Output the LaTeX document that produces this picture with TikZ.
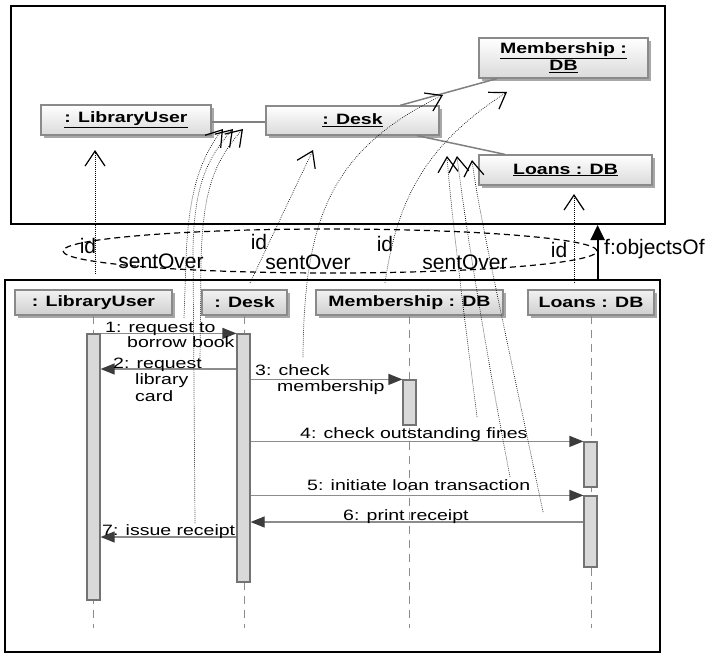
\documentclass[tikz,border=0pt]{standalone}
\usepackage{fontspec}
\setmainfont{Liberation Sans}
\newfontfamily\umlfont[FakeStretch=1.3]{Liberation Sans}
\usetikzlibrary{arrows.meta,shadows,shapes.geometric,calc}

\definecolor{boxedge}{HTML}{8A8A8A}
\definecolor{boxbot}{HTML}{DADADA}
\definecolor{hdrtop}{HTML}{F2F2F2}
\definecolor{hdrbot}{HTML}{CFCFCF}
\definecolor{shade}{HTML}{A8A8A8}
\definecolor{actfill}{HTML}{D9D9D9}
\definecolor{actedge}{HTML}{737373}
\definecolor{msgline}{HTML}{8C8C8C}
\definecolor{msghead}{HTML}{3C3C3C}

\begin{document}
\begin{tikzpicture}[x=1pt,y=-1pt,
  frame/.style={draw=black,line width=2pt,inner sep=0pt},
  objbox/.style={draw=boxedge,line width=1.2pt,top color=white,bottom color=boxbot,
     drop shadow={shadow xshift=3pt,shadow yshift=-3pt,fill=shade,opacity=1},
     inner sep=0pt,align=center,font=\umlfont\bfseries\fontsize{15}{16}\selectfont},
  hdrbox/.style={objbox,top color=hdrtop,bottom color=hdrbot,minimum height=25pt},
  act/.style={draw=actedge,fill=actfill,line width=1.2pt,minimum width=13pt,inner sep=0pt},
  lifeline/.style={draw=msgline,line width=1pt,dash pattern=on 8pt off 6pt},
  link/.style={draw=gray,line width=1.5pt},
  msg/.style={draw=msgline,line width=1.2pt,-{Triangle[length=14pt,width=11pt,color=msghead,fill=msghead]}},
  msglbl/.style={anchor=base west,inner sep=0pt,font=\umlfont\fontsize{15}{16}\selectfont},
  mapline/.style={draw=black,line width=0.7pt,dash pattern=on 0.7pt off 1.3pt,
     -{Straight Barb[length=15pt,width=20pt,line width=1.2pt]}},
  biglbl/.style={inner sep=0pt,font=\fontsize{21}{24}\selectfont},
]
\useasboundingbox (0,0) rectangle (708,652);

% ---------- frames ----------
\node[frame,minimum width=654pt,minimum height=218pt,anchor=north west] (objs) at (10,5) {};
\node[frame,minimum width=655pt,minimum height=372pt,anchor=north west] (seq) at (4,279) {};

% ---------- object diagram ----------
\node[objbox,minimum width=170pt,minimum height=30pt] (oLU) at (126,120) {\underline{: LibraryUser}};
\node[objbox,minimum width=173pt,minimum height=29pt] (oDesk) at (352.5,120.5) {\underline{: Desk}};
\node[objbox,minimum width=169pt,minimum height=40pt] (oMem) at (563.5,58) {\underline{Membership :}\\[1pt]\underline{DB}};
\node[objbox,minimum width=173pt,minimum height=30pt] (oLoans) at (565.5,170) {\underline{Loans : DB}};

\coordinate (yLink) at (0,122);
\draw[link] (oLU.east |- yLink) -- (oDesk.west |- yLink);
\draw[link] ($(oDesk.north)+(47.5,0)$) -- ($(oMem.south)+(-66.5,0)$);
\draw[link] ($(oDesk.south)+(64.5,0)$) -- ($(oLoans.north)+(-60.5,0)$);

% ---------- sequence diagram ----------
\node[hdrbox,minimum width=157pt] (hLU) at (93.5,302.5) {: LibraryUser};
\node[hdrbox,minimum width=85pt] (hDesk) at (244.5,302.5) {: Desk};
\node[hdrbox,minimum width=187pt] (hMem) at (409.5,302.5) {Membership : DB};
\node[hdrbox,minimum width=126pt] (hLoans) at (591,302.5) {Loans : DB};

\coordinate (yEnd) at (0,628);
\foreach \h in {hLU,hDesk,hMem,hLoans}
  \draw[lifeline] (\h.south) -- (\h.south |- yEnd);

\node[act,minimum height=266pt] (aLU) at (93.5,467) {};
\node[act,minimum height=248pt] (aDesk) at (243.5,458) {};
\node[act,minimum height=45pt] (aMem) at (409.5,402.5) {};
\node[act,minimum height=45pt] (aLoansA) at (590.5,464.5) {};
\node[act,minimum height=71pt] (aLoansB) at (590.5,531.5) {};

\coordinate (y2) at (0,369);
\coordinate (y6) at (0,522);
\coordinate (y7) at (0,537);
\draw[msg] (aLU.north east) -- (aDesk.north west);
\draw[msg] (aDesk.west |- y2) -- (aLU.east |- y2);
\draw[msg] (aDesk.east |- aMem.north) -- (aMem.north west);
\draw[msg] (aDesk.east |- aLoansA.north) -- (aLoansA.north west);
\draw[msg] (aDesk.east |- aLoansB.north) -- (aLoansB.north west);
\draw[msg] (aLoansB.west |- y6) -- (aDesk.east |- y6);
\draw[msg] (aDesk.west |- y7) -- (aLU.east |- y7);

\node[msglbl] (m1a) at (105,332) {1: request to};
\node[msglbl] (m1b) at (127,347) {borrow book};
\node[msglbl] (m2a) at (113,368) {2: request};
\node[msglbl] (m2b) at (135,384.5) {library};
\node[msglbl] (m2c) at (135,401) {card};
\node[msglbl] (m3a) at (255,375) {3: check};
\node[msglbl] (m3b) at (277,391) {membership};
\node[msglbl] (m4) at (300,438) {4: check outstanding fines};
\node[msglbl] (m5) at (307,490) {5: initiate loan transaction};
\node[msglbl] (m6) at (343,520) {6: print receipt};
\node[msglbl] (m7) at (102,535) {7: issue receipt};

% ---------- mapping between the two diagrams ----------
\node[draw=black,line width=1.2pt,dash pattern=on 6pt off 4pt,ellipse,
      minimum width=534pt,minimum height=44pt,inner sep=0pt] (grp) at (330,251) {};
\draw[line width=2pt,-{Triangle[length=15pt,width=14pt]}] (grp.east |- seq.north) -- (grp.east |- objs.south);
\node[biglbl,anchor=west] (objOf) at (604,249) {f:objectsOf};

\node[biglbl] (id1) at (88,246) {id};
\node[biglbl] (id2) at (259,242) {id};
\node[biglbl] (id3) at (385,244) {id};
\node[biglbl] (id4) at (559,250) {id};
\node[biglbl] (so1) at (161,261) {sentOver};
\node[biglbl] (so2) at (308,262) {sentOver};
\node[biglbl] (so3) at (465,262) {sentOver};

% end points of the id / sentOver mappings
\coordinate (luIdSrc) at (95,274);   \coordinate (luIdTip) at (95,150);
\coordinate (dkIdSrc) at (250,283);  \coordinate (dkIdTip) at (313,150);
\coordinate (mbIdSrc) at (385,283);  \coordinate (mbIdTip) at (507,92);
\coordinate (lnIdSrc) at (574,283);  \coordinate (lnIdTip) at (574,194);
\coordinate (s1) at (184,318); \coordinate (t1) at (223,129);
\coordinate (s2) at (200,362); \coordinate (t2) at (243,129);
\coordinate (s7) at (195,523); \coordinate (t7) at (233,129);
\coordinate (s3) at (303,357); \coordinate (t3) at (443,95);
\coordinate (s4) at (477,417); \coordinate (t4) at (447,156);
\coordinate (s5) at (510,477); \coordinate (t5) at (457,156);
\coordinate (s6) at (543,512); \coordinate (t6) at (472,160);

\draw[mapline] (luIdSrc) -- (luIdTip);
\draw[mapline] (dkIdSrc) -- (dkIdTip);
\draw[mapline] (mbIdSrc) .. controls (397,200) and (425,145) .. (mbIdTip);
\draw[mapline] (lnIdSrc) -- (lnIdTip);

\draw[mapline] (s1) -- (186,260) .. controls (188,200) and (198,160) .. (t1);
\draw[mapline] (s7) -- (193,250) .. controls (194,190) and (205,160) .. (t7);
\draw[mapline] (s2) -- (201,260) .. controls (203,200) and (210,165) .. (t2);
\draw[mapline] (s3) .. controls (304,220) and (330,150) .. (t3);
\draw[mapline] (s4) .. controls (462,300) and (450,200) .. (t4);
\draw[mapline] (s5) .. controls (480,320) and (462,200) .. (t5);
\draw[mapline] (s6) .. controls (505,330) and (478,210) .. (t6);
\end{tikzpicture}
\end{document}
